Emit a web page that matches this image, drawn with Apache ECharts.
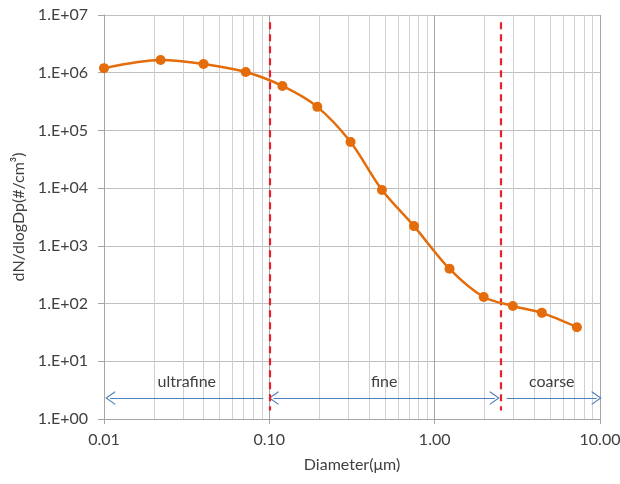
<!DOCTYPE html>
<html>
<head>
<meta charset="utf-8">
<script src="https://cdn.jsdelivr.net/npm/echarts@6/dist/echarts.min.js"></script>
<style>
  html, body { margin: 0; padding: 0; background: #fff; }
  #chart { width: 620px; height: 484px; }
</style>
</head>
<body>
<div id="chart"></div>
<script>
// particle size distribution
const diameters = [0.01, 0.022, 0.04, 0.072, 0.12, 0.195, 0.31, 0.48, 0.75, 1.23, 1.98, 2.97, 4.45, 7.25];
const counts = [1.2e6, 1.66e6, 1.42e6, 1.03e6, 5.9e5, 2.56e5, 6.3e4, 9.3e3, 2.2e3, 4.0e2, 1.3e2, 91, 69, 39];

// size class boundaries (µm) and the ranges the arrows cover
const boundaries = [0.1, 2.5];
const classNames = ["ultrafine", "fine", "coarse"];
const classRanges = [[0.0109, 0.092], [0.106, 2.31], [2.73, 9.55]];
const arrowLevel = 2.3;

// minor grid at 2..9 of each decade
const minorTicks = [];
[0.01, 0.1, 1].forEach(d => {
  for (let k = 2; k <= 9; k++) minorTicks.push(+(d * k).toFixed(4));
});

const font = "Lato";
const textColor = "#404040";
const orange = "#E46C0A";
const chevron = "path://M0,10 L5,0 L10,10 L9,10 L5,2 L1,10 Z";

const chart = echarts.init(document.getElementById("chart"));

const arrowLines = classRanges.map((r, i) => {
  let sym = ["none", "none"];
  if (i === 0) sym = [chevron, "none"];
  if (i === 1) sym = [chevron, chevron];
  if (i === 2) sym = ["none", chevron];
  return [
    { coord: [r[0], arrowLevel], symbol: sym[0], label: { show: true, formatter: classNames[i] } },
    { coord: [r[1], arrowLevel], symbol: sym[1] }
  ];
});

chart.setOption({
  animation: false,
  grid: { left: 104, right: 20, top: 15, bottom: 65, outerBoundsMode: "none" },
  xAxis: {
    type: "log",
    logBase: 10,
    min: 0.01,
    max: 10,
    name: "Diameter(\u03bcm)",
    nameLocation: "middle",
    nameGap: 38,
    nameTextStyle: { fontFamily: font, fontSize: 16, color: textColor },
    axisLine: { lineStyle: { color: "#a6a6a6" } },
    axisTick: { show: true, length: 5, lineStyle: { color: "#a6a6a6" } },
    axisLabel: {
      fontFamily: font, fontSize: 16, color: textColor, margin: 13,
      formatter: v => Number(v).toFixed(2)
    },
    splitLine: { show: true, lineStyle: { color: "#a6a6a6" } }
  },
  yAxis: {
    type: "log",
    logBase: 10,
    min: 1,
    max: 1e7,
    name: "dN/dlogDp(#/cm\u00b3)",
    nameLocation: "middle",
    nameGap: 77,
    nameTextStyle: { fontFamily: font, fontSize: 16, color: textColor },
    axisLine: { show: true, lineStyle: { color: "#a6a6a6" } },
    axisTick: { show: true, length: 6, lineStyle: { color: "#a6a6a6" } },
    axisLabel: {
      fontFamily: font, fontSize: 16, color: textColor, margin: 16,
      formatter: v => "1.E+" + String(Math.round(Math.log10(v))).padStart(2, "0")
    },
    splitLine: { show: true, lineStyle: { color: "#bfbfbf" } }
  },
  series: [
    {
      // minor vertical grid lines
      type: "line",
      data: [],
      z: 1,
      silent: true,
      markLine: {
        silent: true,
        symbol: ["none", "none"],
        label: { show: false },
        lineStyle: { color: "#d0d0d0", type: "solid", width: 1 },
        data: minorTicks.map(v => ({ xAxis: v }))
      }
    },
    {
      // class arrows
      type: "line",
      data: [],
      z: 3,
      silent: true,
      markLine: {
        silent: true,
        symbolSize: [14, 10],
        lineStyle: { color: "#4f81bd", type: "solid", width: 1.2 },
        label: {
          position: "insideMiddleTop",
          distance: 8,
          fontFamily: font,
          fontSize: 16,
          color: textColor
        },
        data: arrowLines
      }
    },
    {
      // boundaries
      type: "line",
      data: [],
      z: 4,
      silent: true,
      markLine: {
        silent: true,
        symbol: ["none", "none"],
        label: { show: false },
        lineStyle: { color: "#e8202a", type: [7, 5], width: 2.2 },
        data: boundaries.map(b => [{ coord: [b, 7.5e6] }, { coord: [b, 1.4] }])
      }
    },
    {
      name: "dN/dlogDp",
      type: "line",
      z: 5,
      smooth: 0.3,
      symbol: "circle",
      symbolSize: 10,
      itemStyle: { color: orange },
      lineStyle: { color: orange, width: 2.5 },
      data: diameters.map((d, i) => [d, counts[i]])
    }
  ]
});
</script>
</body>
</html>
